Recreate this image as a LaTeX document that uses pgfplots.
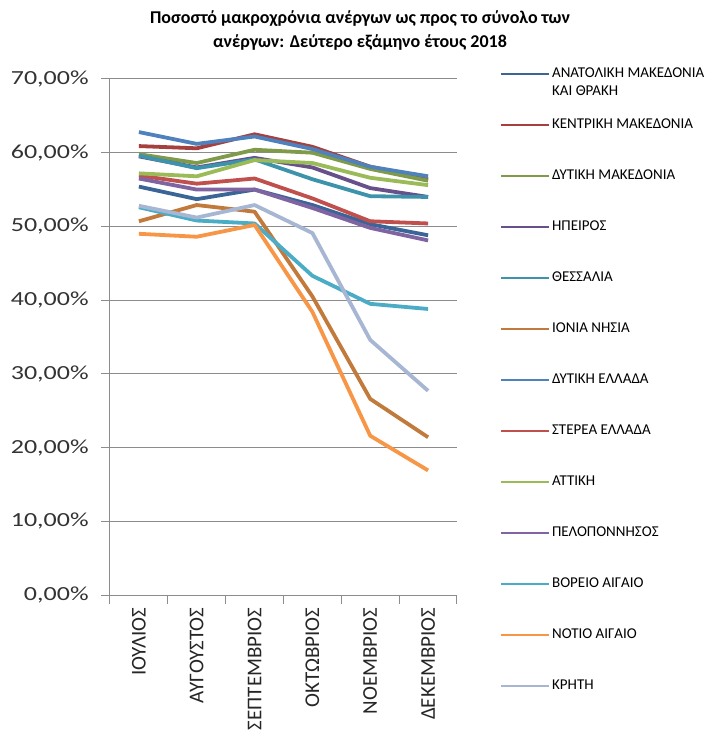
\documentclass[border=0pt]{standalone}
\usepackage{pgfplots}
\usepackage{pgfplotstable}
\pgfplotsset{compat=1.18}
\usepackage{fontspec}
\setmainfont{Carlito}

\definecolor{c1}{HTML}{3B6597}
\definecolor{c2}{HTML}{A5403D}
\definecolor{c3}{HTML}{7F9A48}
\definecolor{c4}{HTML}{68508A}
\definecolor{c5}{HTML}{3D93AB}
\definecolor{c6}{HTML}{C27A3C}
\definecolor{c7}{HTML}{4F81BD}
\definecolor{c8}{HTML}{C0504D}
\definecolor{c9}{HTML}{9BBB59}
\definecolor{c10}{HTML}{8064A2}
\definecolor{c11}{HTML}{4BACC6}
\definecolor{c12}{HTML}{F79646}
\definecolor{c13}{HTML}{A7B7D3}
\definecolor{axgray}{HTML}{8C8C8C}

% long-term unemployed share, % (Jul-Dec 2018)
\pgfplotstableread{
x anmak kentmak dytmak ipeiros thess ionia dytel sterea attiki pelop voreio notio kriti
0 55.4 60.9 59.8 59.5 59.6 50.7 62.8 56.9 57.2 56.5 52.6 49.0 52.8
1 53.7 60.6 58.6 58.0 57.9 52.9 61.2 55.8 56.8 55.0 50.8 48.6 51.2
2 55.0 62.5 60.4 59.3 59.1 52.0 62.2 56.5 59.0 55.0 50.4 50.2 52.9
3 52.9 60.8 60.0 58.0 56.4 40.5 60.5 53.8 58.6 52.5 43.3 38.4 49.1
4 50.3 58.1 57.8 55.2 54.1 26.6 58.1 50.7 56.6 49.8 39.5 21.6 34.6
5 48.8 56.4 56.2 54.0 54.0 21.4 56.8 50.4 55.6 48.1 38.8 16.9 27.7
}\data

\begin{document}
\begin{tikzpicture}
\useasboundingbox (-110pt,-138pt) rectangle (613pt,595pt);
\begin{axis}[
  scale only axis,
  width=347pt, height=516pt,
  xmin=-0.5, xmax=5.5, ymin=0, ymax=70,
  axis x line*=bottom, axis y line*=left,
  axis line style={axgray, line width=1pt},
  tick align=outside,
  major tick length=9pt,
  tick style={axgray, line width=1pt},
  xtick={-0.5,0.5,...,5.5},
  x tick label as interval,
  xticklabels={ΙΟΥΛΙΟΣ,ΑΥΓΟΥΣΤΟΣ,ΣΕΠΤΕΜΒΡΙΟΣ,ΟΚΤΩΒΡΙΟΣ,ΝΟΕΜΒΡΙΟΣ,ΔΕΚΕΜΒΡΙΟΣ},
  xticklabel style={rotate=90, anchor=east, font=\fontsize{21}{21}\selectfont, text=black!85},
  ytick={0,10,...,70},
  ymajorgrids,
  grid style={axgray, line width=1pt},
  yticklabel={\pgfmathprintnumber[fixed,fixed zerofill,precision=2,use comma]{\tick}\%},
  yticklabel style={/pgf/number format/assume math mode=true, font=\fontsize{20}{20}\selectfont, xscale=1.3, xshift=-6pt, text=black!80},
  legend cell align=left,
  legend image code/.code={\draw[#1, line width=2pt] (0pt,0pt) -- (48pt,0pt);},
  legend style={draw=none, fill=none, at={(1.115,1.03)}, anchor=north west,
    font=\fontsize{15}{16}\selectfont, row sep=34pt,
    nodes={text height=10pt, text depth=3pt}},
  every axis plot/.append style={line width=3.8pt, line join=round},
]
\addplot[c1] table[x=x,y=anmak] {\data};
\addlegendentry{\smash{\begin{tabular}[t]{@{}l@{}}ΑΝΑΤΟΛΙΚΗ ΜΑΚΕΔΟΝΙΑ\\[2pt]ΚΑΙ ΘΡΑΚΗ\end{tabular}}}
\addplot[c2] table[x=x,y=kentmak] {\data};
\addlegendentry{ΚΕΝΤΡΙΚΗ ΜΑΚΕΔΟΝΙΑ}
\addplot[c3] table[x=x,y=dytmak] {\data};
\addlegendentry{ΔΥΤΙΚΗ ΜΑΚΕΔΟΝΙΑ}
\addplot[c4] table[x=x,y=ipeiros] {\data};
\addlegendentry{ΗΠΕΙΡΟΣ}
\addplot[c5] table[x=x,y=thess] {\data};
\addlegendentry{ΘΕΣΣΑΛΙΑ}
\addplot[c6] table[x=x,y=ionia] {\data};
\addlegendentry{ΙΟΝΙΑ ΝΗΣΙΑ}
\addplot[c7] table[x=x,y=dytel] {\data};
\addlegendentry{ΔΥΤΙΚΗ ΕΛΛΑΔΑ}
\addplot[c8] table[x=x,y=sterea] {\data};
\addlegendentry{ΣΤΕΡΕΑ ΕΛΛΑΔΑ}
\addplot[c9] table[x=x,y=attiki] {\data};
\addlegendentry{ΑΤΤΙΚΗ}
\addplot[c10] table[x=x,y=pelop] {\data};
\addlegendentry{ΠΕΛΟΠΟΝΝΗΣΟΣ}
\addplot[c11] table[x=x,y=voreio] {\data};
\addlegendentry{ΒΟΡΕΙΟ ΑΙΓΑΙΟ}
\addplot[c12] table[x=x,y=notio] {\data};
\addlegendentry{ΝΟΤΙΟ ΑΙΓΑΙΟ}
\addplot[c13] table[x=x,y=kriti] {\data};
\addlegendentry{ΚΡΗΤΗ}
\end{axis}
\node[align=center, font=\bfseries\fontsize{18}{24}\selectfont] at (250pt,565pt)
  {Ποσοστό μακροχρόνια ανέργων ως προς το σύνολο των\\ανέργων: Δεύτερο εξάμηνο έτους 2018};
\end{tikzpicture}
\end{document}
